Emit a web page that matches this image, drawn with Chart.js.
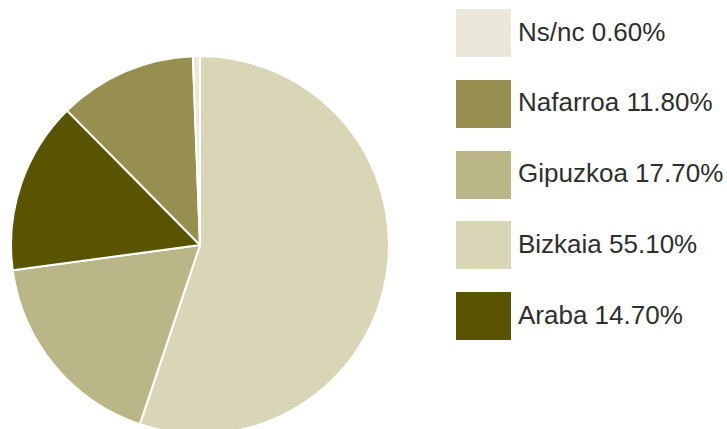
<!DOCTYPE html>
<html>
<head>
<meta charset="utf-8">
<script src="https://cdn.jsdelivr.net/npm/chart.js@4/dist/chart.umd.min.js"></script>
<style>
  html, body { margin: 0; padding: 0; background: #fff; }
  body { width: 727px; height: 429px; overflow: hidden; position: relative; font-family: "Liberation Sans", Arial, sans-serif; }
  #pie-wrap { position: absolute; left: 10px; top: 55px; width: 380px; height: 380px; }
  #legend { position: absolute; left: 456px; top: 9px; }
  .row { display: flex; align-items: center; height: 48px; margin-bottom: 22.75px; }
  .box { width: 55px; height: 48px; margin-right: 7px; flex: none; }
  .lbl { font-size: 26px; color: #2e2e2e; white-space: nowrap; margin-top: -2px; }
</style>
</head>
<body>
<div id="pie-wrap"><canvas id="pie"></canvas></div>
<div id="legend"></div>
<script>
'use strict';

// ── Data ─────────────────────────────────────────────────────────────────────
const regions = ['Bizkaia', 'Gipuzkoa', 'Araba', 'Nafarroa', 'Ns/nc'];
const shares  = [55.1, 17.7, 14.7, 11.8, 0.6];
const colors  = ['#d9d6b7', '#bab688', '#5a5300', '#968f50', '#ebe8da'];
const legendOrder = ['Ns/nc', 'Nafarroa', 'Gipuzkoa', 'Bizkaia', 'Araba'];

const pct = (v) => v.toFixed(2) + '%';

// ── Pie ──────────────────────────────────────────────────────────────────────
new Chart(document.getElementById('pie'), {
  type: 'pie',
  data: {
    labels: regions,
    datasets: [{
      data: shares,
      backgroundColor: colors,
      borderColor: '#ffffff',
      borderWidth: 2,
    }]
  },
  options: {
    responsive: true,
    maintainAspectRatio: false,
    animation: false,
    layout: { padding: 0 },
    plugins: { legend: { display: false }, tooltip: { enabled: false } }
  }
});

// ── Legend ───────────────────────────────────────────────────────────────────
const legend = document.getElementById('legend');
legendOrder.forEach(name => {
  const i = regions.indexOf(name);
  const row = document.createElement('div');
  row.className = 'row';
  row.innerHTML = `<div class="box" style="background:${colors[i]}"></div><span class="lbl">${name} ${pct(shares[i])}</span>`;
  legend.appendChild(row);
});
</script>
</body>
</html>
